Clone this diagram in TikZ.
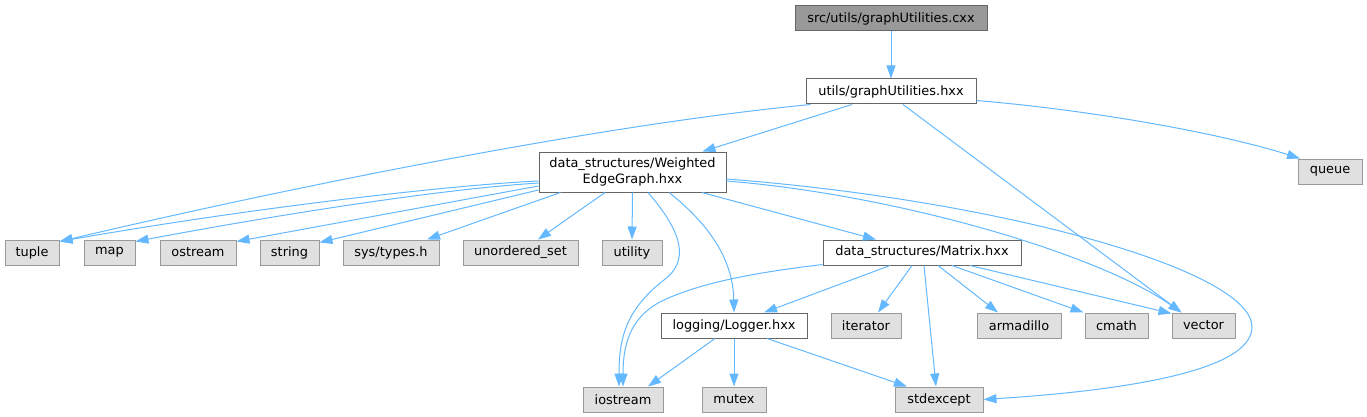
\documentclass[tikz,border=0pt]{standalone}
\usepackage{fontspec}
\setmainfont{DejaVu Sans}
\usetikzlibrary{arrows.meta}
\definecolor{edgeblue}{HTML}{63B8FF}
\definecolor{sysfill}{HTML}{E0E0E0}
\definecolor{sysdraw}{HTML}{999999}
\definecolor{hdrdraw}{HTML}{666666}
\definecolor{rootfill}{HTML}{999999}
\tikzset{
  base/.style={rectangle, inner sep=0pt, minimum height=25pt, line width=1pt,
    font=\fontsize{12.9}{15.5}\selectfont, align=center},
  sysnode/.style={base, fill=sysfill, draw=sysdraw},
  hdrnode/.style={base, fill=white, draw=hdrdraw},
  rootnode/.style={base, fill=rootfill, draw=hdrdraw},
  dep/.style={draw=edgeblue, line width=1pt, -{Triangle[length=13pt,width=9pt]}, fill=none},
}
\begin{document}
\begin{tikzpicture}[x=1pt,y=-1pt]
\useasboundingbox (0,0) rectangle (1367,417);
% nodes
\node[rootnode, minimum width=192pt] (cxx) at (891,18.5) {src/utils/graphUtilities.cxx};
\node[hdrnode, minimum width=170pt] (ghxx) at (891,91.5) {utils/graphUtilities.hxx};
\node[hdrnode, minimum width=187pt, minimum height=40pt] (weg) at (632.5,172) {data\_structures/Weighted\\EdgeGraph.hxx};
\node[sysnode, minimum width=64pt] (queue) at (1330,171.5) {queue};
\node[sysnode, minimum width=54pt] (tuple) at (32,252.5) {tuple};
\node[sysnode, minimum width=51pt] (map) at (109.5,252.5) {map};
\node[sysnode, minimum width=76pt] (ostream) at (198,252.5) {ostream};
\node[sysnode, minimum width=59pt] (string) at (289.5,252.5) {string};
\node[sysnode, minimum width=96pt] (systypes) at (391,252.5) {sys/types.h};
\node[sysnode, minimum width=115pt] (uset) at (520.5,252.5) {unordered\_set};
\node[sysnode, minimum width=60pt] (utility) at (632,252.5) {utility};
\node[hdrnode, minimum width=198pt] (matrix) at (922,252.5) {data\_structures/Matrix.hxx};
\node[hdrnode, minimum width=146pt] (logger) at (734,325.5) {logging/Logger.hxx};
\node[sysnode, minimum width=70pt] (iterator) at (866,325.5) {iterator};
\node[sysnode, minimum width=84pt] (armadillo) at (1019,325.5) {armadillo};
\node[sysnode, minimum width=63pt] (cmath) at (1116.5,325.5) {cmath};
\node[sysnode, minimum width=63pt] (vector) at (1203.5,325.5) {vector};
\node[sysnode, minimum width=80pt] (iostream) at (623,399.5) {iostream};
\node[sysnode, minimum width=64pt] (mutex) at (734,399.5) {mutex};
\node[sysnode, minimum width=88pt] (stdexcept) at (939,399.5) {stdexcept};
% edges from root
\draw[dep] (cxx.south) -- (ghxx.north);
% edges from graphUtilities.hxx
\draw[dep] ([xshift=5pt]ghxx.south west) .. controls (600,125) and (300,185) .. ([yshift=-2pt]tuple.north east);
\draw[dep] ([xshift=-39pt]ghxx.south) -- ([xshift=70pt]weg.north);
\draw[dep] ([xshift=12pt]ghxx.south) -- ([xshift=-22pt]vector.north);
\draw[dep] ([yshift=-9pt]ghxx.east) .. controls (1090,110) and (1220,133) .. ([xshift=-30pt]queue.north);
% edges from WeightedEdgeGraph.hxx
\draw[dep] ([yshift=-9pt]weg.west) .. controls (450,185) and (250,208) .. ([yshift=-2pt]tuple.north east);
\draw[dep] ([yshift=-11pt]weg.west) .. controls (430,190) and (260,218) .. ([yshift=-2pt]map.north east);
\draw[dep] ([yshift=-14pt]weg.west) -- ([yshift=-2pt]ostream.north east);
\draw[dep] ([yshift=-18pt]weg.west) -- ([yshift=-3pt]string.north east);
\draw[dep] ([xshift=-72pt]weg.south) -- ([xshift=36pt]systypes.north);
\draw[dep] ([xshift=-27.5pt]weg.south) -- ([xshift=17.5pt]uset.north);
\draw[dep] (weg.south) -- (utility.north);
\draw[dep] ([xshift=69.5pt]weg.south) -- ([xshift=-46pt]matrix.north);
\draw[dep] ([yshift=-9pt]weg.east) .. controls (900,195) and (1100,255) .. ([xshift=-22pt]vector.north);
\draw[dep] ([yshift=-7pt]weg.east) .. controls (1000,200) and (1252,270) .. (1252,327)
   .. controls (1252,375) and (1100,392) .. (stdexcept.east);
\draw[dep] ([xshift=15.5pt]weg.south) .. controls (685,235) and (688,262) .. (664,280)
   .. controls (625,310) and (619,340) .. ([xshift=-4pt]iostream.north);
\draw[dep] ([xshift=36.5pt]weg.south) .. controls (710,225) and (733,260) .. (logger.north);
% edges from Matrix.hxx
\draw[dep] ([yshift=1pt]matrix.south west) .. controls (760,272) and (700,282) .. (660,302)
   .. controls (630,318) and (623,345) .. (iostream.north);
\draw[dep] ([xshift=-32pt]matrix.south) -- ([xshift=30pt]logger.north);
\draw[dep] ([xshift=-10pt]matrix.south) -- ([xshift=12pt]iterator.north);
\draw[dep] ([xshift=2pt]matrix.south) -- ([xshift=-3pt]stdexcept.north);
\draw[dep] ([xshift=16pt]matrix.south) -- ([xshift=-21pt]armadillo.north);
\draw[dep] ([xshift=30pt]matrix.south) -- ([xshift=-1pt]cmath.north west);
\draw[dep] ([xshift=48pt]matrix.south) -- ([yshift=-1pt]vector.north west);
% edges from Logger.hxx
\draw[dep] ([xshift=-19pt]logger.south) -- ([xshift=25pt]iostream.north);
\draw[dep] (logger.south) -- (mutex.north);
\draw[dep] ([xshift=33pt]logger.south) -- ([xshift=-32pt]stdexcept.north);
\end{tikzpicture}
\end{document}
